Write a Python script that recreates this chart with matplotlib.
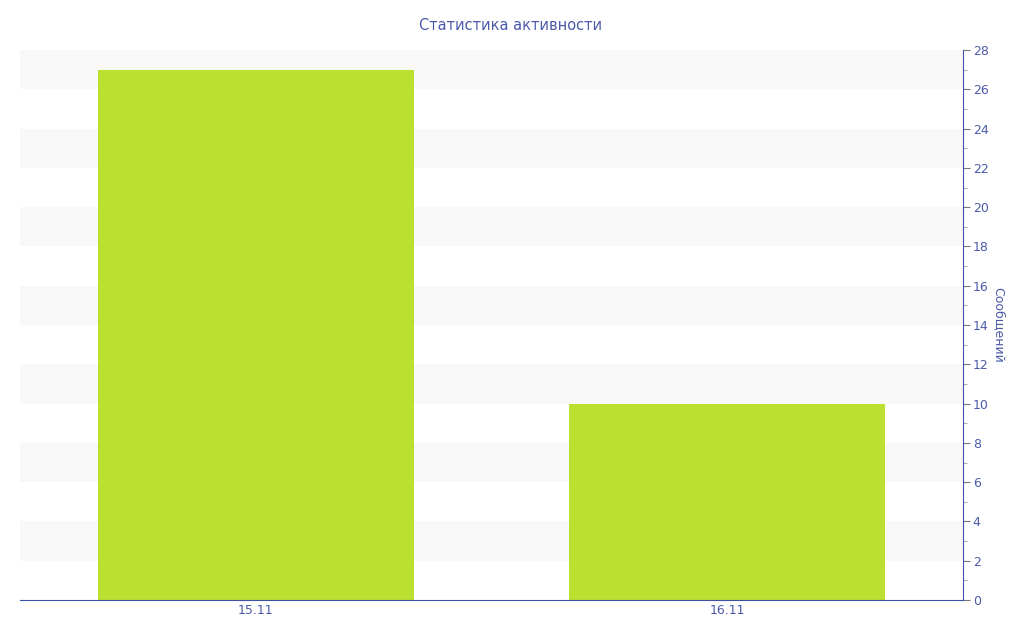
import matplotlib
matplotlib.use("Agg")
import matplotlib.pyplot as plt
from matplotlib.ticker import MultipleLocator

# data
days = ["15.11", "16.11"]
messages = [27, 10]

blue = "#3f51a8"
text_c = "#4a5aa8"
bar_c = "#bce02f"

fig = plt.figure(figsize=(10.24, 6.4), dpi=100)
ax = fig.add_axes([20 / 1024, 40 / 640, 943 / 1024, 550 / 640])

# alternating background bands
for lo in range(2, 28, 4):
    ax.axhspan(lo, lo + 2, color="#f8f8f8", lw=0, zorder=0)

x = list(range(len(days)))
ax.bar(x, messages, width=0.67, color=bar_c, zorder=2)

ax.set_xlim(-0.5, 1.5)
ax.set_ylim(0, 28)
ax.set_xticks(x)
ax.set_xticklabels(days)

ax.yaxis.tick_right()
ax.yaxis.set_label_position("right")
ax.yaxis.set_major_locator(MultipleLocator(2))
ax.yaxis.set_minor_locator(MultipleLocator(1))
ax.set_ylabel("Сообщений", rotation=-90, labelpad=12, color=text_c, fontsize=9)

for s in ["top", "left"]:
    ax.spines[s].set_visible(False)
ax.spines["right"].set_color(blue)
ax.spines["bottom"].set_color(blue)

ax.tick_params(axis="y", which="major", length=5, color="#777777", labelcolor=text_c, labelsize=9, pad=2)
ax.tick_params(axis="y", which="minor", length=3, color="#999999")
ax.tick_params(axis="x", length=0, labelcolor=text_c, labelsize=9, pad=3)

fig.text(511 / 1024, 1 - 25 / 640, "Статистика активности", ha="center", va="center",
         color=text_c, fontsize=10.5)

fig.savefig("out.png", dpi=100)
